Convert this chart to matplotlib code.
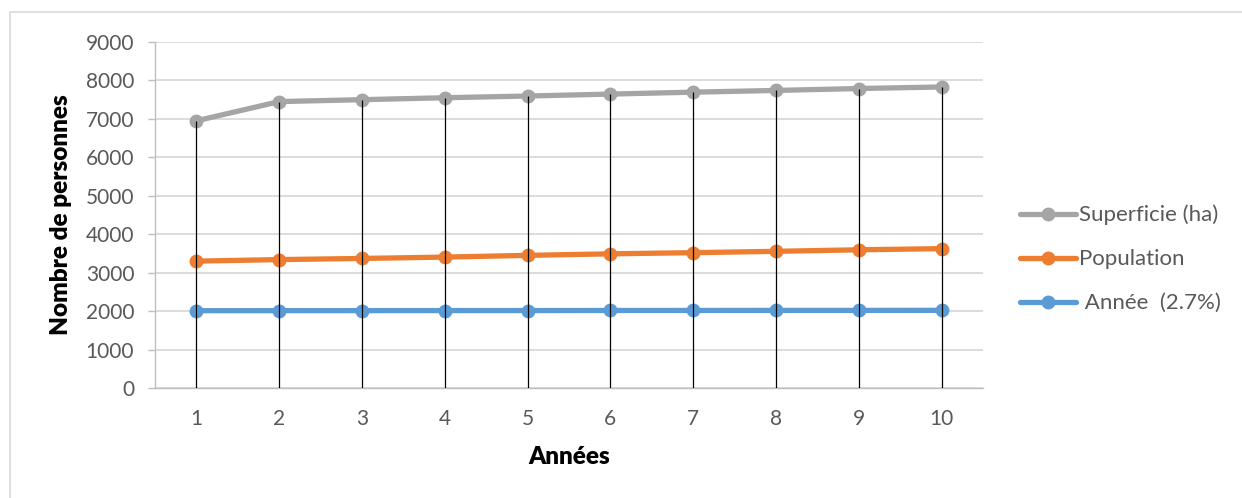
import matplotlib
matplotlib.use("Agg")
import matplotlib.pyplot as plt
from matplotlib.patches import Rectangle

plt.rcParams['font.family'] = ['Lato', 'DejaVu Sans']

# chart data
annees_idx = [1, 2, 3, 4, 5, 6, 7, 8, 9, 10]
superficie = [6950, 7450, 7500, 7550, 7595, 7645, 7695, 7740, 7790, 7830]
population = [3300, 3340, 3370, 3405, 3450, 3490, 3520, 3555, 3595, 3625]
annee = [2011, 2012, 2013, 2014, 2015, 2016, 2017, 2018, 2019, 2020]
y_ticks = [0, 1000, 2000, 3000, 4000, 5000, 6000, 7000, 8000, 9000]

GRAY = '#A5A5A5'
ORANGE = '#ED7D31'
BLUE = '#5B9BD5'
TXT = '#595959'

fig = plt.figure(figsize=(12.42, 4.98), dpi=100)
ax = fig.add_axes([155 / 1242, 1 - 388 / 498, (983 - 155) / 1242, (388 - 42) / 498])

# outer chart border
fig.patches.append(Rectangle((10 / 1242, -0.1), 1.5, 1.1 - 12 / 498,
                             transform=fig.transFigure, fill=False,
                             edgecolor='#D9D9D9', linewidth=1.2))

line_kw = dict(linewidth=3.8, marker='o', markersize=9, solid_capstyle='round')
ax.plot(annees_idx, superficie, color=GRAY, label='Superficie (ha)', zorder=3, **line_kw)
ax.plot(annees_idx, population, color=ORANGE, label='Population', zorder=3, **line_kw)
ax.plot(annees_idx, annee, color=BLUE, label=' Année  (2.7%)', zorder=3, **line_kw)

# drop lines down to the axis
top = [max(a, b, c) for a, b, c in zip(superficie, population, annee)]
ax.vlines(annees_idx, 0, top, colors='black', linewidth=0.9, zorder=4)

ax.set_xlim(0.5, 10.5)
ax.set_ylim(0, 9000)
ax.set_yticks(y_ticks)
ax.set_xticks(annees_idx)
ax.yaxis.grid(True, color='#D9D9D9', linewidth=1.3)
ax.set_axisbelow(True)

for side in ['top', 'right']:
    ax.spines[side].set_visible(False)
ax.spines['left'].set_color('#BFBFBF')
ax.spines['bottom'].set_color('#BFBFBF')
ax.spines['left'].set_linewidth(1)
ax.spines['bottom'].set_linewidth(1)

ax.tick_params(axis='y', colors='#BFBFBF', labelcolor=TXT, labelsize=15,
               length=5, width=1, pad=10)
ax.tick_params(axis='x', labelcolor=TXT, labelsize=15, length=0, pad=15)

ax.set_ylabel('Nombre de personnes', fontsize=17.5, fontweight='heavy', labelpad=10)
ax.set_xlabel('Années', fontsize=17.5, fontweight='heavy', labelpad=12)

leg = fig.legend(loc='center left', bbox_to_anchor=(1020 / 1242, 1 - 259 / 498),
                 frameon=False, fontsize=16, handlelength=2.5, handletextpad=0.15,
                 labelspacing=1.08, borderpad=0, borderaxespad=0)
for t in leg.get_texts():
    t.set_color(TXT)

fig.savefig('out.png', dpi=100)
